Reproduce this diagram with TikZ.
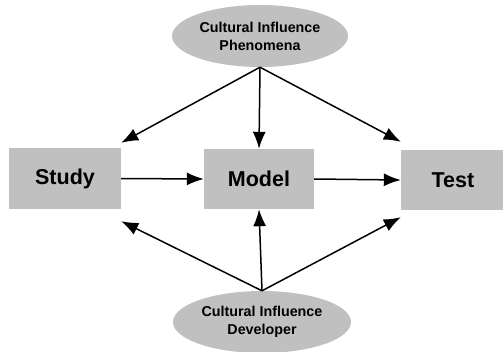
\documentclass[tikz,border=0pt]{standalone}
\usepackage{fontspec}
\setmainfont{Liberation Sans}
\usetikzlibrary{arrows.meta,shapes.geometric}

\begin{document}
\begin{tikzpicture}[x=1pt,y=-1pt,
    stage/.style={rectangle,fill=boxgray,inner sep=0pt,font=\fontsize{21.5}{24}\selectfont\bfseries},
    influence/.style={ellipse,fill=boxgray,inner sep=0pt,align=center,font=\fontsize{14.3}{18}\selectfont\bfseries},
    flow/.style={line width=1.5pt,-{Latex[length=17pt,width=13pt]}}]
    \definecolor{boxgray}{RGB}{192,192,192}
    \useasboundingbox (0,0) rectangle (503,351);

    % stages
    \node[stage,minimum width=112pt,minimum height=61pt] (study) at (65,178.5) {Study};
    \node[stage,minimum width=110pt,minimum height=60pt] (model) at (259,179) {Model};
    \node[stage,minimum width=104pt,minimum height=60pt] (test) at (453,180) {Test};

    % influences
    \node[influence,minimum width=176pt,minimum height=62pt] (phen) at (260,36)
        {Cultural Influence\\Phenomena};
    \node[influence,minimum width=178pt,minimum height=62pt] (dev) at (262,322)
        {Cultural Influence\\Developer};

    % connectors
    \draw[flow] (phen.south) -- ([yshift=5pt]study.north east);
    \draw[flow] (phen.south) -- (model.north);
    \draw[flow] (phen.south) -- ([yshift=8pt]test.north west);
    \draw[flow] (dev.north) -- ([yshift=-12pt]study.south east);
    \draw[flow] (dev.north) -- (model.south);
    \draw[flow] (dev.north) -- ([yshift=-7pt]test.south west);
    \draw[flow] (study.east) -- (model.west);
    \draw[flow] (model.east) -- (test.west);
\end{tikzpicture}
\end{document}
